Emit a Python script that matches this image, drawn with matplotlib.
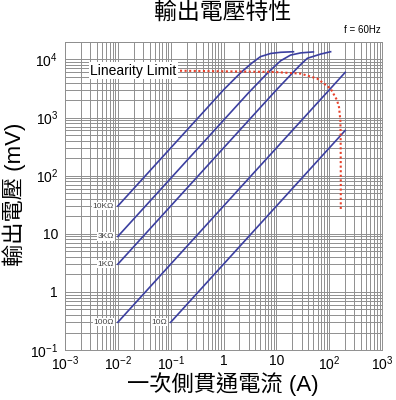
import matplotlib
matplotlib.use("Agg")
import matplotlib.pyplot as plt
from matplotlib.ticker import LogLocator, NullFormatter

plt.rcParams['font.family'] = ['Liberation Sans', 'Noto Sans CJK TC', 'DejaVu Sans']
plt.rcParams['mathtext.fontset'] = 'custom'
plt.rcParams['mathtext.rm'] = 'Liberation Sans'

# curves: current (A) -> output voltage (mV)
labels = ['10KΩ', '3KΩ', '1KΩ', '100Ω', '10Ω']
i_10k = [0.01, 1, 2.1, 3.5, 5, 7.8, 12, 21]
v_10k = [30, 3000, 5900, 8800, 11200, 12700, 13300, 13600]
i_3k = [0.01, 3, 7, 12, 18.5, 29, 50]
v_3k = [9, 2700, 6000, 9500, 11900, 13000, 13500]
i_1k = [0.01, 10, 18.5, 28, 38.5, 69, 106]
v_1k = [3, 3000, 5400, 8000, 10500, 12400, 13600]
i_100 = [0.01, 200]
v_100 = [0.3, 6000]
i_10 = [0.1, 200]
v_10 = [0.3, 600]
currents = [i_10k, i_3k, i_1k, i_100, i_10]
voltages = [v_10k, v_3k, v_1k, v_100, v_10]

# linearity limit (red dotted)
lim_i = [0.15, 9, 29, 59, 106, 140, 153, 162, 164, 165, 165]
lim_v = [6400, 6100, 5700, 4700, 3150, 2000, 1500, 900, 500, 100, 26]

x_ticks = [1e-3, 1e-2, 1e-1, 1, 10, 1e2, 1e3]
x_ticklabels = ['$\\mathregular{10^{-3}}$', '$\\mathregular{10^{-2}}$', '$\\mathregular{10^{-1}}$',
                '1', '10', '$\\mathregular{10^{2}}$', '$\\mathregular{10^{3}}$']
y_ticks = [1e-1, 1, 10, 1e2, 1e3, 1e4]
y_ticklabels = ['$\\mathregular{10^{-1}}$', '1', '10',
                '$\\mathregular{10^{2}}$', '$\\mathregular{10^{3}}$', '$\\mathregular{10^{4}}$']

fig = plt.figure(figsize=(3.96, 4.0), dpi=100)
ax = fig.add_axes([0.164, 0.125, 0.801, 0.77])
ax.set_xscale('log')
ax.set_yscale('log')
ax.set_xlim(1e-3, 1e3)
ax.set_ylim(1e-1, 2e4)

ax.xaxis.set_minor_locator(LogLocator(base=10, subs=range(2, 10), numticks=20))
ax.yaxis.set_minor_locator(LogLocator(base=10, subs=range(2, 10), numticks=20))
ax.xaxis.set_minor_formatter(NullFormatter())
ax.yaxis.set_minor_formatter(NullFormatter())
ax.grid(True, which='both', color='#8f8f8f', lw=0.7)
ax.set_axisbelow(True)
for s in ax.spines.values():
    s.set_color('#8f8f8f')
    s.set_linewidth(0.7)

ax.set_xticks(x_ticks)
ax.set_xticklabels(x_ticklabels, fontsize=10)
ax.set_yticks(y_ticks)
ax.set_yticklabels(y_ticklabels, fontsize=10)
ax.tick_params(which='both', length=0, pad=3)
ax.tick_params(axis='y', pad=5)

blue = '#3b3fa0'
for lab, xs, ys in zip(labels, currents, voltages):
    ax.plot(xs, ys, color=blue, lw=1.2)
    ax.text(xs[0] * 0.85, ys[0], lab, ha='right', va='center', fontsize=6,
            color='#444444', bbox=dict(facecolor='white', edgecolor='none', pad=0.5))

ax.plot(lim_i, lim_v, color='#e8402a', lw=1.5, ls=(0, (1, 1.2)))
ax.text(0.003, 6400, 'Linearity Limit', ha='left', va='center', fontsize=10,
        bbox=dict(facecolor='white', edgecolor='none', pad=1))

fig.text(0.563, 0.97, '輸出電壓特性', ha='center', va='center', fontsize=16.5,
         fontweight='light')
fig.text(0.962, 0.925, 'f = 60Hz', ha='right', va='center', fontsize=7)
fig.text(0.563, 0.04, '一次側貫通電流 (A)', ha='center', va='center', fontsize=16,
         fontweight='light')
fig.text(0.035, 0.515, '輸出電壓 (mV)', ha='center', va='center', fontsize=16,
         rotation=90, fontweight='light')

fig.savefig('out.png', dpi=100)
